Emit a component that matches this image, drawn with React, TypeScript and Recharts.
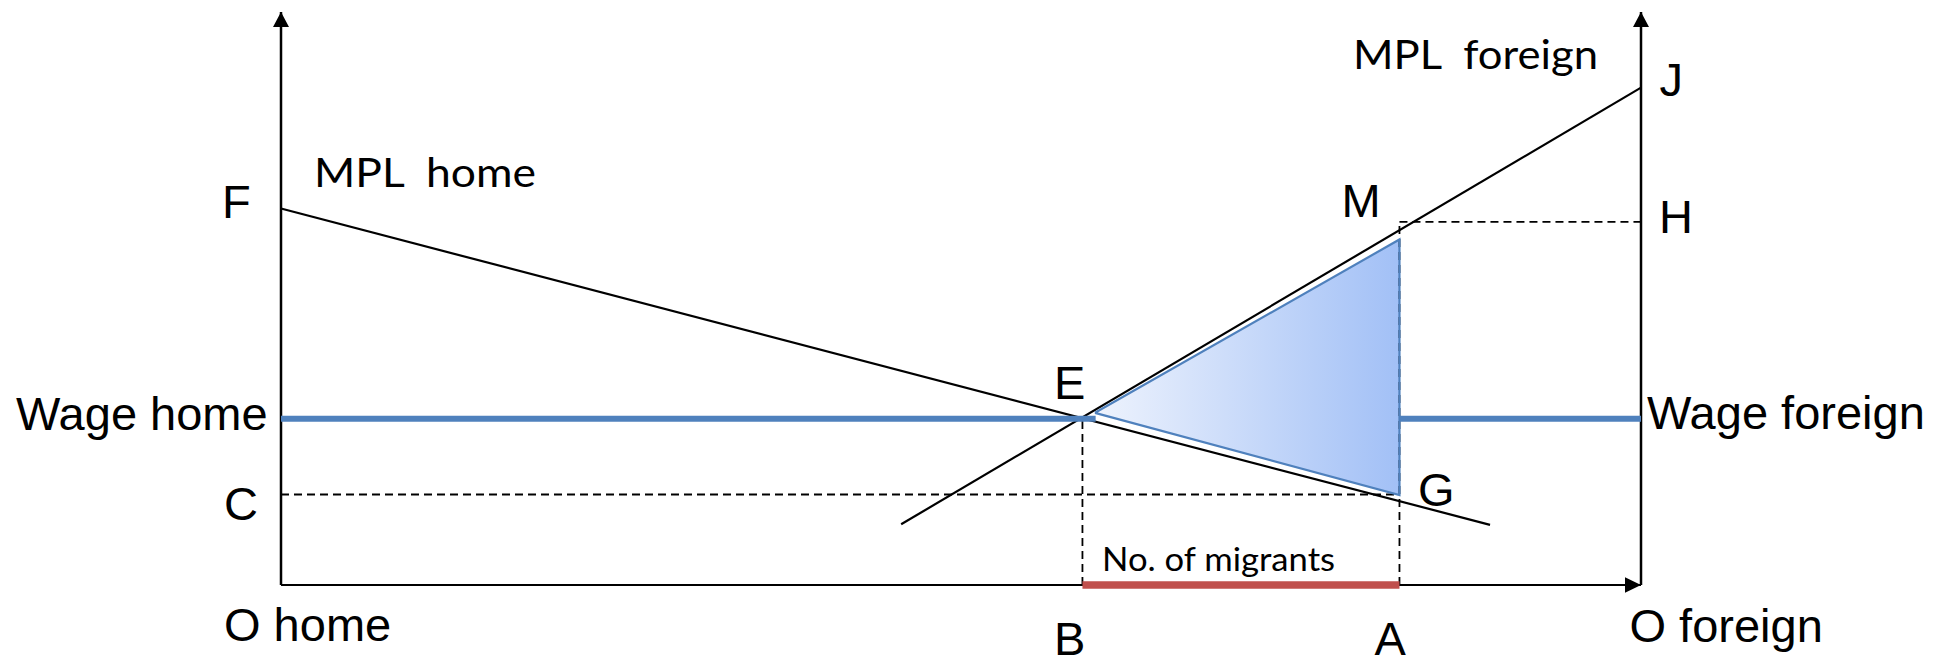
import React from 'react';
import { ComposedChart, Line, Area, Scatter, XAxis, YAxis } from 'recharts';

// Coordinate system: x 0 = "O home" axis, 100 = "O foreign" axis; y 0 = horizontal axis
const homeAxis = [{ x: 0, y: 0 }, { x: 0, y: 100 }];
const foreignAxis = [{ x: 100, y: 0 }, { x: 100, y: 100 }];
const baseAxis = [{ x: 0, y: 0 }, { x: 100, y: 0 }];

const mplHome = [{ x: 0, y: 65.7 }, { x: 88.9, y: 10.5 }];
const mplForeign = [{ x: 45.6, y: 10.6 }, { x: 100, y: 86.8 }];

const wageHome = [{ x: 0, y: 29 }, { x: 59.9, y: 29 }];
const wageForeign = [{ x: 82.24, y: 29 }, { x: 100, y: 29 }];

const dashC = [{ x: 0, y: 15.79 }, { x: 82.24, y: 15.79 }];
const dashH = [{ x: 82.24, y: 63.37 }, { x: 100, y: 63.37 }];
const dashB = [{ x: 58.93, y: 0 }, { x: 58.93, y: 29 }];
const dashA = [{ x: 82.24, y: 0 }, { x: 82.24, y: 63.37 }];

const migrantsBar = [{ x: 58.93, y: 0 }, { x: 82.24, y: 0 }];

const triangleArea = [
  { x: 59.85, range: [30.05, 30.05] },
  { x: 82.24, range: [15.7, 60.3] },
];
const triangleEdge = [
  { x: 59.85, y: 30.05 },
  { x: 82.24, y: 60.3 },
  { x: 82.24, y: 15.7 },
  { x: 59.85, y: 30.05 },
];

// Label anchors (data coordinates)
const labels = [
  { text: 'F', x: 0, y: 65.7 },
  { text: 'MPL  home', x: 0, y: 65.7 },
  { text: 'Wage home', x: 0, y: 29 },
  { text: 'C', x: 0, y: 15.79 },
  { text: 'O home', x: 0, y: 0 },
  { text: 'E', x: 58.93, y: 29 },
  { text: 'B', x: 58.93, y: 0 },
  { text: 'No. of migrants', x: 58.93, y: 0 },
  { text: 'A', x: 82.24, y: 0 },
  { text: 'G', x: 82.24, y: 15.79 },
  { text: 'M', x: 82.24, y: 63.37 },
  { text: 'H', x: 100, y: 63.37 },
  { text: 'J', x: 100, y: 86.8 },
  { text: 'MPL  foreign', x: 100, y: 86.8 },
  { text: 'Wage foreign', x: 100, y: 29 },
  { text: 'O foreign', x: 100, y: 0 },
];

// Presentation (pixel offsets from anchors, fonts)
const ARIAL = 'Liberation Sans, Arial, sans-serif';
const CALIBRI = 'Lato, Carlito, Calibri, sans-serif';
const labelStyle: Record<string, { dx: number; dy: number; font: string; size: number; len?: number }> = {
  'F': { dx: -59, dy: 9.5, font: ARIAL, size: 47 },
  'MPL  home': { dx: 33, dy: -21.5, font: CALIBRI, size: 40.5, len: 222 },
  'Wage home': { dx: -265, dy: 11.2, font: ARIAL, size: 47 },
  'C': { dx: -57, dy: 25.5, font: ARIAL, size: 47 },
  'O home': { dx: -57, dy: 56, font: ARIAL, size: 47 },
  'E': { dx: -28.4, dy: -19.8, font: ARIAL, size: 47 },
  'B': { dx: -28.4, dy: 69.5, font: ARIAL, size: 47 },
  'No. of migrants': { dx: 19.6, dy: -14.3, font: CALIBRI, size: 33, len: 233 },
  'A': { dx: -25, dy: 69.5, font: ARIAL, size: 47 },
  'G': { dx: 18.5, dy: 11.5, font: ARIAL, size: 47 },
  'M': { dx: -58, dy: -4.9, font: ARIAL, size: 47 },
  'H': { dx: 18, dy: 11.1, font: ARIAL, size: 47 },
  'J': { dx: 18.6, dy: 8.4, font: ARIAL, size: 47 },
  'MPL  foreign': { dx: -288, dy: -18.3, font: CALIBRI, size: 40.5, len: 245 },
  'Wage foreign': { dx: 6, dy: 10.2, font: ARIAL, size: 47 },
  'O foreign': { dx: -11.5, dy: 56.5, font: ARIAL, size: 47 },
};

const BLUE = '#4f81bd';
const RED = '#c0504d';

const upArrow = (props: any) => {
  const { cx, cy, index } = props;
  if (index !== 1 || cx == null || cy == null) return <g key={`ua-${index}`} />;
  return (
    <polygon
      key={`ua-${index}`}
      points={`${cx},${cy} ${cx - 8},${cy + 15} ${cx + 8},${cy + 15}`}
      fill="#000"
    />
  );
};

const rightArrow = (props: any) => {
  const { cx, cy, index } = props;
  if (index !== 1 || cx == null || cy == null) return <g key={`ra-${index}`} />;
  return (
    <polygon
      key={`ra-${index}`}
      points={`${cx},${cy} ${cx - 16},${cy - 7.8} ${cx - 16},${cy + 7.8}`}
      fill="#000"
    />
  );
};

const renderLabel = (props: any) => {
  const { cx, cy, payload } = props;
  const s = labelStyle[payload.text];
  const extra: any = s.len ? { textLength: s.len, lengthAdjust: 'spacingAndGlyphs' } : {};
  return (
    <text
      x={cx + s.dx}
      y={cy + s.dy}
      fontFamily={s.font}
      fontSize={s.size}
      fill="#000"
      style={{ whiteSpace: 'pre' }}
      {...extra}
    >
      {payload.text}
    </text>
  );
};

export default function App() {
  return (
    <div>
      <style>{'body{margin:0;overflow:hidden;background:#fff}'}</style>
      <ComposedChart
        width={1951}
        height={659}
        margin={{ top: 12, right: 310, bottom: 74, left: 281 }}
      >
        <defs>
          <linearGradient id="triGrad" x1="0" y1="0" x2="1" y2="0">
            <stop offset="0%" stopColor="#eef3fd" />
            <stop offset="100%" stopColor="#a2c0f6" />
          </linearGradient>
        </defs>
        <XAxis type="number" dataKey="x" domain={[0, 100]} hide />
        <YAxis type="number" domain={[0, 100]} hide />

        <Line data={dashC} dataKey="y" stroke="#000" strokeWidth={1.8} strokeDasharray="8 5" dot={false} activeDot={false} isAnimationActive={false} />
        <Line data={dashH} dataKey="y" stroke="#000" strokeWidth={1.8} strokeDasharray="8 5" dot={false} activeDot={false} isAnimationActive={false} />
        <Line data={dashB} dataKey="y" stroke="#000" strokeWidth={1.8} strokeDasharray="8 5" dot={false} activeDot={false} isAnimationActive={false} />
        <Line data={dashA} dataKey="y" stroke="#000" strokeWidth={1.8} strokeDasharray="8 5" dot={false} activeDot={false} isAnimationActive={false} />

        <Line data={homeAxis} dataKey="y" stroke="#000" strokeWidth={2.5} dot={upArrow} activeDot={false} isAnimationActive={false} />
        <Line data={foreignAxis} dataKey="y" stroke="#000" strokeWidth={2.5} dot={upArrow} activeDot={false} isAnimationActive={false} />
        <Line data={baseAxis} dataKey="y" stroke="#000" strokeWidth={2.2} dot={rightArrow} activeDot={false} isAnimationActive={false} />

        <Line data={mplHome} dataKey="y" stroke="#000" strokeWidth={2.2} dot={false} activeDot={false} isAnimationActive={false} />
        <Line data={mplForeign} dataKey="y" stroke="#000" strokeWidth={2.2} dot={false} activeDot={false} isAnimationActive={false} />

        <Line data={wageHome} dataKey="y" stroke={BLUE} strokeWidth={6} dot={false} activeDot={false} isAnimationActive={false} />
        <Line data={wageForeign} dataKey="y" stroke={BLUE} strokeWidth={6} dot={false} activeDot={false} isAnimationActive={false} />

        <Area data={triangleArea} dataKey="range" type="linear" fill="url(#triGrad)" fillOpacity={1} stroke="none" activeDot={false} isAnimationActive={false} />
        <Line data={triangleEdge} dataKey="y" stroke={BLUE} strokeWidth={2.2} strokeLinejoin="miter" dot={false} activeDot={false} isAnimationActive={false} />

        <Line data={migrantsBar} dataKey="y" stroke={RED} strokeWidth={7.5} dot={false} activeDot={false} isAnimationActive={false} />

        <Scatter data={labels} dataKey="y" shape={renderLabel} isAnimationActive={false} />
      </ComposedChart>
    </div>
  );
}
